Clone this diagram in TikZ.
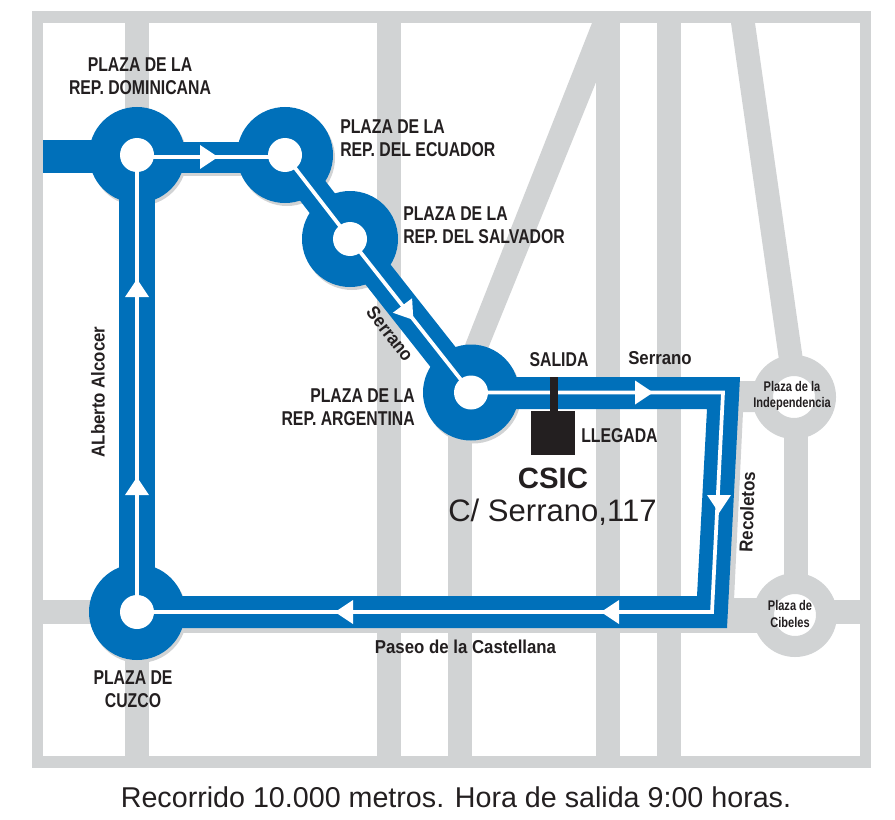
\documentclass[tikz,border=0pt]{standalone}
\usepackage{fontspec}
\newfontfamily\mapfont[FakeStretch=0.79]{Liberation Sans}
\newfontfamily\wayfont[FakeStretch=0.9]{Liberation Sans}
\newfontfamily\capfont{Liberation Sans}
\definecolor{roadgray}{RGB}{209,211,212}
\definecolor{routeblue}{RGB}{0,112,186}
\definecolor{inkblack}{RGB}{35,31,32}
\tikzset{
  road/.style={line width=18pt,draw=roadgray,line cap=butt},
  plaza/.style={circle,fill=routeblue,inner sep=0pt,outer sep=0pt,minimum size=72pt},
  grayplaza/.style={circle,draw=roadgray,fill=white,line width=15.75pt,inner sep=0pt,minimum size=47.25pt},
  routeline/.style={draw=white,line width=2.8pt},
  platelabel/.style={font=\mapfont\bfseries\fontsize{15}{17.3}\selectfont,text=inkblack,align=center,inner sep=0pt},
  waylabel/.style={font=\wayfont\bfseries\fontsize{14}{15}\selectfont,text=inkblack,inner sep=0pt},
  smalllabel/.style={font=\mapfont\bfseries\fontsize{10.5}{12.5}\selectfont,text=inkblack,align=center,inner sep=0pt}
}
\begin{document}
\begin{tikzpicture}[x=0.75pt,y=-0.75pt]
  \useasboundingbox (0,0) rectangle (895,820);
  %streets
  \draw[roadgray,line width=8.5pt] (37.5,17) rectangle (865.5,762);
  \foreach \sx in {137,389,608,668.5}
    \draw[road] (\sx,23) -- (\sx,756);
  \draw[road] (43,612) -- (860,612);
  \draw[road] (460,393) -- (460,756);
  \fill[roadgray] (592,23) -- (620,23) -- (470,393) -- (446,393) -- cycle;
  \fill[roadgray] (731,23) -- (755,23) -- (803,360) -- (779,360) -- cycle;
  \fill[roadgray] (137,598) rectangle (770,633);
  \fill[roadgray] (735,381) -- (790,381) -- (790,412) -- (743,412) -- (734,600) -- (725,600) -- cycle;
  \draw[road] (796,397) -- (796,615);
  \node[grayplaza] (indep) at (794,397) {};
  \node[grayplaza] (cibel) at (795,615) {};
  %route shadow
  \begin{scope}[shift={(2,3)}]
    \fill[roadgray] (137,155) circle (48) (285,155) circle (48) (350,239) circle (48) (471,392.5) circle (48);
    \fill[roadgray] (137,612) circle (48);
    \fill[roadgray] (137,142) rectangle (285,173);
  \end{scope}
  %route
  \coordinate (ne) at (723,392.5);
  \coordinate (se) at (712,612);
  \node[plaza] (domi) at (137,155) {};
  \node[plaza] (ecua) at (285,155) {};
  \node[plaza] (salv) at (350,239) {};
  \node[plaza] (arge) at (471,392.5) {};
  \node[plaza] (cuzc) at (137,612) {};
  \fill[routeblue] (43,140.5) rectangle (137,173);
  \fill[routeblue] (137,142) rectangle (285,173);
  \fill[routeblue] (119,155) rectangle (155,612);
  \draw[routeblue,line width=24pt] (ecua.center) -- (salv.center) -- (arge.center);
  \fill[routeblue] (471,377) -- (740,377) -- (727,628) -- (137,628) -- (137,596) -- (697,596) -- (707,409) -- (471,409) -- cycle;
  \draw[routeline] ([yshift=-1.5pt]domi.center) -- ([yshift=-1.5pt]ecua.center);
  \draw[routeline] (ecua.center) -- (salv.center);
  \draw[routeline] (salv.center) -- (arge.center);
  \draw[routeline] (arge.center) -- (ne) -- (se) -- (cuzc.center);
  \draw[routeline] (cuzc.center) -- (domi.center);
  \foreach \pl in {domi,ecua,salv,arge,cuzc}
    \fill[white] (\pl.center) circle (17);
  %arrows
  \foreach \px/\py/\ang in {200/157/0,635/392.5/0,719/495/-90,619/612/180,353/612/180,137/297/90,137/495/90,402.5/305.5/-53}
    \fill[white,shift={(\px,\py)},rotate=\ang] (0,-12) -- (18,0) -- (0,12) -- cycle;
  %csic
  \fill[inkblack] (531,411) rectangle (575,455);
  \node[inner sep=0pt,minimum width=6pt,minimum height=25.5pt,fill=inkblack] (stem) at (554,394) {};
  %labels
  \node[platelabel] (ldomi) at (140,76.5) {PLAZA DE LA\\REP. DOMINICANA};
  \node[platelabel,align=left,anchor=west] (lecua) at (340,138.5) {PLAZA DE LA\\REP. DEL ECUADOR};
  \node[platelabel,align=left,anchor=west] (lsalv) at (403,225.5) {PLAZA DE LA\\REP. DEL SALVADOR};
  \node[platelabel,align=right,anchor=east] (large) at (415,407) {PLAZA DE LA\\REP. ARGENTINA};
  \node[platelabel] (lcuzc) at (133,689.5) {PLAZA DE\\CUZCO};
  \node[platelabel] (lsali) at (559,360) {SALIDA};
  \node[platelabel,anchor=west] (llleg) at (581,436) {LLEGADA};
  \node[waylabel] (lserr) at (660,358) {Serrano};
  \node[waylabel,rotate=-52] (lsdia) at (390,334) {Serrano};
  \node[waylabel,rotate=90] (lalbe) at (98,392) {ALberto Alcocer};
  \node[waylabel,rotate=88] (lreco) at (747,512) {Recoletos};
  \node[waylabel] (lcast) at (465.5,647) {Paseo de la Castellana};
  \node[smalllabel] (lindep) at (792,396) {Plaza de la\\Independencia};
  \node[smalllabel] (lcibel) at (790,614) {Plaza de\\Cibeles};
  \node[font=\capfont\bfseries\fontsize{22}{24}\selectfont,text=inkblack,inner sep=0pt] (lcsic) at (553,478) {CSIC};
  \node[font=\capfont\fontsize{23.3}{24}\selectfont,text=inkblack,inner sep=0pt] (ldire) at (552.5,512) {C/ Serrano,117};
  \node[font=\capfont\fontsize{21.5}{24}\selectfont,text=inkblack,inner sep=0pt] (lrecor) at (456,797) {Recorrido 10.000 metros. Hora de salida 9:00 horas.};
\end{tikzpicture}
\end{document}
